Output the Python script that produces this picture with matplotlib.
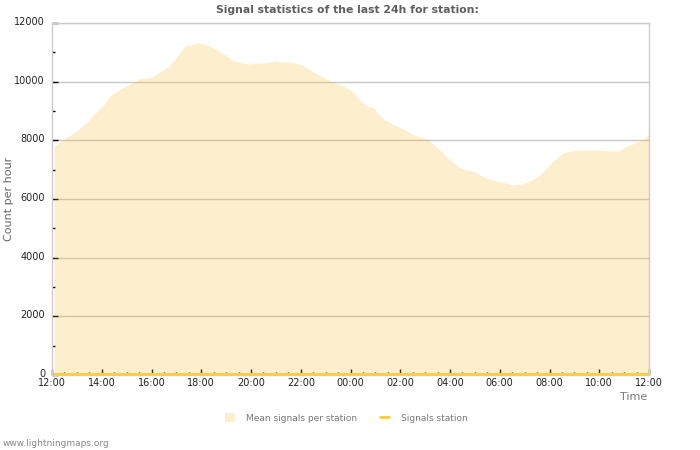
import matplotlib
matplotlib.use("Agg")
import matplotlib.pyplot as plt
import matplotlib.transforms as mtransforms
import numpy as np
from matplotlib.ticker import MultipleLocator

# data: hours after 12:00, mean signals per station (count per hour)
hours = [0.08, 0.52, 0.92, 1.33, 1.73, 2.13, 2.33, 2.67, 3.07, 3.34, 3.61, 3.94,
         4.27, 4.68, 5.01, 5.35, 5.62, 5.88, 6.15, 6.55, 6.95, 7.29, 7.63, 7.89,
         8.16, 8.56, 8.96, 9.37, 9.77, 10.04, 10.37, 10.77, 11.11, 11.45, 11.71,
         11.98, 12.18, 12.38, 12.69, 12.92, 13.12, 13.39, 13.72, 14.06, 14.39,
         14.73, 15.06, 15.33, 15.67, 16.00, 16.33, 16.60, 16.94, 17.21, 17.48,
         17.81, 18.14, 18.48, 18.88, 19.15, 19.49, 19.75, 20.02, 20.35, 20.62,
         20.89, 21.23, 21.70, 22.16, 22.43, 22.77, 22.97, 23.30, 23.64, 24.00]
mean_signals = [7780, 8070, 8270, 8555, 8920, 9260, 9520, 9715, 9885, 10030, 10115, 10135,
                10285, 10510, 10830, 11215, 11270, 11330, 11285, 11135, 10910, 10715, 10645, 10600,
                10635, 10645, 10705, 10660, 10635, 10570, 10400, 10205, 10055, 9945, 9865,
                9715, 9580, 9375, 9147, 9125, 8897, 8693, 8546, 8410, 8260,
                8124, 8056, 7875, 7612, 7330, 7101, 6989, 6965, 6818, 6706,
                6624, 6569, 6477, 6511, 6590, 6740, 6931, 7193, 7442, 7592,
                7636, 7670, 7670, 7660, 7636, 7636, 7749, 7865, 7977, 8182]
station_signals = [0] * len(hours)

tick_hours = [0, 2, 4, 6, 8, 10, 12, 14, 16, 18, 20, 22, 24]
tick_labels = ["12:00", "14:00", "16:00", "18:00", "20:00", "22:00", "00:00",
               "02:00", "04:00", "06:00", "08:00", "10:00", "12:00"]

plt.rcParams["font.family"] = "DejaVu Sans"

fig = plt.figure(figsize=(7, 4.5), dpi=100)
ax = fig.add_axes([52 / 700, 1 - 375 / 450, 597 / 700, 352 / 450])

# grid first, fill is translucent on top
ax.yaxis.grid(True, color="#c8c8c8", linewidth=1)
ax.set_axisbelow(True)

fill = ax.fill_between(hours, mean_signals, 0, color="#f7bb2f", alpha=0.23,
                       linewidth=0, label="Mean signals per station", zorder=2)
line, = ax.plot(hours, station_signals, color="#ffcc40", linewidth=3,
                label="Signals station", zorder=3, solid_capstyle="butt")

ax.set_xlim(0, 24)
ax.set_ylim(0, 12000)
ax.set_xticks(tick_hours)
ax.set_xticklabels(tick_labels)
ax.xaxis.set_minor_locator(MultipleLocator(0.5))
ax.set_yticks(range(0, 12001, 2000))
ax.yaxis.set_minor_locator(MultipleLocator(1000))

ax.tick_params(which="both", direction="in", labelsize=7, colors="black")
ax.tick_params(which="major", length=4, width=1)
ax.tick_params(which="minor", length=2, width=1)
ax.tick_params(axis="x", which="major", pad=2)
ax.tick_params(axis="y", which="major", pad=5)
for t in ax.get_xticklabels() + ax.get_yticklabels():
    t.set_color("#222222")

# y labels sit a touch above their ticks
shift = mtransforms.ScaledTranslation(0, 2 / 100, fig.dpi_scale_trans)
for t in ax.get_yticklabels():
    t.set_transform(t.get_transform() + shift)

for s in ax.spines.values():
    s.set_color("#cccccc")
    s.set_linewidth(1)

ax.set_ylabel("Count per hour", color="#666666", fontsize=8)
ax.yaxis.set_label_coords(-38 / 597, 0.5)
fig.text(647 / 700, 1 - 397 / 450, "Time", ha="right", va="center",
         color="#777777", fontsize=8)

fig.text(347 / 700, 1 - 10 / 450, "Signal statistics of the last 24h for station:",
         ha="center", va="center", color="#5e5e5e", fontsize=7.8, fontweight="bold")

fig.legend(handles=[fill, line], loc="center", bbox_to_anchor=(346 / 700, 1 - 418 / 450),
           ncol=2, frameon=False, fontsize=6.5, labelcolor="#777777",
           handlelength=1.2, handleheight=1.1, columnspacing=2.4, handletextpad=1.2)
fig.legends[0].get_lines()[0].set_linewidth(2)

fig.text(3 / 700, 1 - 444 / 450, "www.lightningmaps.org", ha="left", va="center",
         color="#888888", fontsize=6.5)

fig.savefig("out.png", dpi=100)
